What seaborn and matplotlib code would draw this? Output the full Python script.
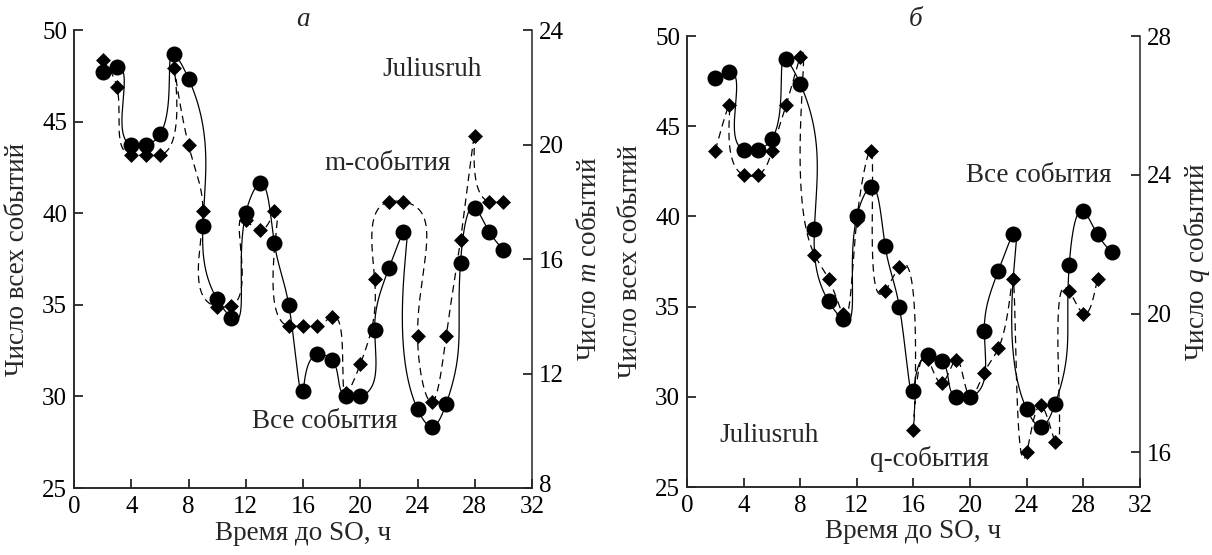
import numpy as np
import pandas as pd
import matplotlib
matplotlib.use("Agg")
import matplotlib.pyplot as plt
import matplotlib.transforms as mtransforms
import seaborn as sns

# Hours before the SO event
hours = list(range(2, 31))

# Number of all events (left axis, both panels)
all_events = [47.7, 48.0, 43.7, 43.7, 44.3, 48.7, 47.35, 39.3, 35.3, 34.3,
              40.0, 41.65, 38.35, 35.0, 30.3, 32.3, 32.0, 30.0, 30.0, 33.65,
              37.0, 39.0, 29.3, 28.35, 29.6, 37.3, 40.3, 39.0, 38.0]

# Number of m-events (panel a, right axis)
m_events = [22.97, 22.0, 19.63, 19.63, 19.63, 22.66, 19.98, 17.68, 14.33, 14.36,
            17.36, 17.0, 17.68, 13.66, 13.66, 13.66, 13.98, 11.31, 12.33, 15.3,
            18.0, 18.0, 13.32, 11.0, 13.32, 16.66, 20.3, 18.0, 18.0]

# Number of q-events (panel b, right axis), hours 2..29
q_hours = list(range(2, 30))
q_events = [24.7, 26.0, 24.0, 24.0, 24.7, 26.0, 27.4, 21.7, 21.0, 20.0,
            22.7, 24.7, 20.65, 21.35, 16.65, 18.7, 18.0, 18.67, 17.6, 18.3,
            19.0, 21.0, 16.0, 17.35, 16.3, 20.65, 20.0, 21.0]

x_ticks = [0, 4, 8, 12, 16, 20, 24, 28, 32]
left_ticks = [25, 30, 35, 40, 45, 50]
m_ticks = [8, 12, 16, 20, 24]
q_ticks = [16, 20, 24, 28]

sns.set_style("ticks")
plt.rcParams["font.family"] = ["Liberation Serif", "DejaVu Serif"]
plt.rcParams["mathtext.fontset"] = "custom"
plt.rcParams["mathtext.rm"] = "Liberation Serif"
plt.rcParams["mathtext.it"] = "Liberation Serif:italic"
plt.rcParams["axes.linewidth"] = 1.1

TICK_FS = 18
FS = 19.5


def natural_spline(t, v, tt):
    n = len(t)
    h = np.diff(t)
    A = np.zeros((n, n))
    r = np.zeros(n)
    A[0, 0] = A[-1, -1] = 1.0
    for i in range(1, n - 1):
        A[i, i - 1] = h[i - 1]
        A[i, i] = 2 * (h[i - 1] + h[i])
        A[i, i + 1] = h[i]
        r[i] = 6 * ((v[i + 1] - v[i]) / h[i] - (v[i] - v[i - 1]) / h[i - 1])
    M = np.linalg.solve(A, r)
    k = np.clip(np.searchsorted(t, tt) - 1, 0, n - 2)
    hk = h[k]
    a = (t[k + 1] - tt) / hk
    b = (tt - t[k]) / hk
    return (a * v[k] + b * v[k + 1]
            + ((a ** 3 - a) * M[k] + (b ** 3 - b) * M[k + 1]) * hk ** 2 / 6)


def smooth_curve(x, y, xlim, ylim, per_seg=40):
    """Parametric cubic spline through the points, in axes-normalised space."""
    x = np.asarray(x, float)
    y = np.asarray(y, float)
    px = (x - xlim[0]) / (xlim[1] - xlim[0])
    py = (y - ylim[0]) / (ylim[1] - ylim[0])
    d = np.hypot(np.diff(px), np.diff(py))
    t = np.concatenate([[0.0], np.cumsum(d)])
    tt = np.linspace(0, t[-1], per_seg * (len(x) - 1) + 1)
    sx = natural_spline(t, px, tt)
    sy = natural_spline(t, py, tt)
    return pd.DataFrame({"x": xlim[0] + sx * (xlim[1] - xlim[0]),
                         "y": ylim[0] + sy * (ylim[1] - ylim[0])})


def draw_panel(ax, sub_x, sub_y, sub_lim, sub_ticks, sub_label, lab_l, lab_r):
    xlim = (0, 32)
    ylim = (25, 50)
    ax2 = ax.twinx()

    curve = smooth_curve(hours, all_events, xlim, ylim)
    sns.lineplot(data=curve, x="x", y="y", sort=False, estimator=None,
                 color="black", linewidth=0.9, ax=ax, zorder=2)
    sns.scatterplot(x=hours, y=all_events, marker="o", s=11.5 ** 2,
                    color="black", edgecolor="black", linewidth=0, ax=ax, zorder=3)

    curve2 = smooth_curve(sub_x, sub_y, xlim, sub_lim)
    sns.lineplot(data=curve2, x="x", y="y", sort=False, estimator=None,
                 color="black", linewidth=0.9, linestyle=(0, (6, 4)), ax=ax2, zorder=2)
    sns.scatterplot(x=sub_x, y=sub_y, marker="D", s=7.6 ** 2,
                    color="black", edgecolor="black", linewidth=0, ax=ax2, zorder=3)

    ax.set_xlim(*xlim)
    ax.set_ylim(*ylim)
    ax2.set_ylim(*sub_lim)
    ax.set_xticks(x_ticks)
    ax.set_yticks(left_ticks)
    ax2.set_yticks(sub_ticks)

    for a in (ax, ax2):
        a.spines["top"].set_visible(False)
        a.tick_params(direction="in", length=6.5, width=1.1, labelsize=TICK_FS,
                      pad=5, colors="black")
    ax.tick_params(axis="x", pad=6)
    ax.spines["right"].set_visible(False)

    ax.set_xlabel("Время до SO, ч", fontsize=FS)
    ax.set_ylabel("Число всех событий", fontsize=FS)
    ax2.set_ylabel(sub_label, fontsize=FS)
    ax.xaxis.set_label_coords(0.5, -0.072)
    ax.yaxis.set_label_coords(lab_l, 0.5)
    ax2.yaxis.set_label_coords(lab_r, 0.5)
    return ax2


fig = plt.figure(figsize=(12.12, 5.55), dpi=100)
axa = fig.add_axes([0.0611, 0.1207, 0.3779, 0.8252])
axb = fig.add_axes([0.5668, 0.1225, 0.3738, 0.8126])

axa2 = draw_panel(axa, hours, m_events, (8, 24), m_ticks, r"Число $\mathit{m}$ событий",
                  -0.096, 1.098)
draw_panel(axb, q_hours, q_events, (15, 28), q_ticks, r"Число $\mathit{q}$ событий",
           -0.097, 1.093)

# Lift the bottom "8" on the m-axis a little so it clears the "32" below it
lift = mtransforms.ScaledTranslation(0, 3 / 72, fig.dpi_scale_trans)
lowest = axa2.yaxis.get_major_ticks()[0].label2
lowest.set_transform(lowest.get_transform() + lift)


def ftext(px, py, s, **kw):
    fig.text(px / 1212, 1 - py / 555, s, ha="center", va="center", fontsize=FS, **kw)


ftext(303, 20, "а", style="italic")
ftext(432, 70, "Juliusruh")
ftext(388, 163, "m-события")
ftext(325, 421, "Все события")

ftext(916, 19, "б", style="italic")
ftext(1039, 176, "Все события")
ftext(769, 435, "Juliusruh")
ftext(929, 459, "q-события")

fig.savefig("out.png", dpi=100)
